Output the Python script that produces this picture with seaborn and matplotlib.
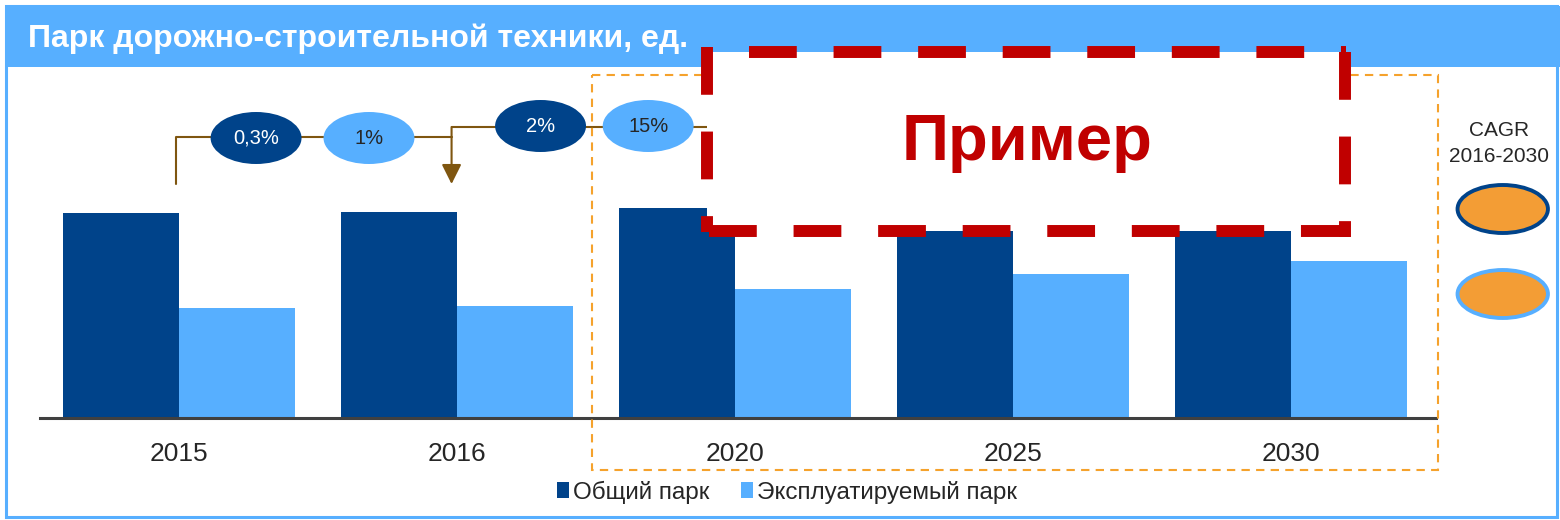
import matplotlib.pyplot as plt
import seaborn as sns
import pandas as pd
from matplotlib.patches import Ellipse, Rectangle

# chart data (heights, arbitrary units)
years = ["2015", "2016", "2020", "2025", "2030"]
total_park = [205, 206, 210, 214, 222]
operated_park = [110, 112, 129, 144, 157]
series_names = ["Общий парк", "Эксплуатируемый парк"]
growth_labels = ["0,3%", "1%", "2%", "15%"]

DARK = "#00438A"
LIGHT = "#57AFFF"
ORANGE = "#F39D35"
BROWN = "#7F5610"
RED = "#C00000"
TEXT = "#262626"

sns.set_style("white")
plt.rcParams["font.family"] = ["Liberation Sans", "DejaVu Sans"]

df = pd.DataFrame({
    "year": years * 2,
    "value": total_park + operated_park,
    "series": [series_names[0]] * len(years) + [series_names[1]] * len(years),
})

W, H = 1560, 520
fig = plt.figure(figsize=(W / 100, H / 100), dpi=100)
ax = fig.add_axes([40 / W, (H - 418) / H, (1436 - 40) / W, (418 - 70) / H])

sns.barplot(data=df, x="year", y="value", hue="series",
            palette=[DARK, LIGHT], width=0.835, saturation=1,
            linewidth=0, ax=ax)

ax.set_xlim(-0.5, 4.52)
ax.set_ylim(0, 348)
ax.set_xlabel("")
ax.set_ylabel("")
ax.set_yticks([])
ax.tick_params(axis="x", length=0, pad=17.5, labelsize=19, labelcolor=TEXT)
for side in ["top", "left", "right"]:
    ax.spines[side].set_visible(False)
ax.spines["bottom"].set_color("#404040")
ax.spines["bottom"].set_linewidth(2.2)

handles, labels = ax.get_legend_handles_labels()
ax.legend(handles, labels, loc="center", bbox_to_anchor=(0.535, -0.213),
          ncol=2, frameon=False, fontsize=17.5, handlelength=0.5,
          handleheight=0.6, handletextpad=0.15, columnspacing=1.3,
          labelcolor=TEXT)

# growth brackets between the years
ax.plot([-0.01, -0.01, 0.98], [234, 281, 281], color=BROWN, lw=1.5,
        clip_on=False, zorder=3)
ax.annotate("", xy=(0.98, 234), xytext=(0.98, 291),
            arrowprops=dict(arrowstyle="-|>", color=BROWN, lw=1.5,
                            mutation_scale=30, shrinkA=0, shrinkB=0),
            zorder=3)
ax.plot([0.98, 2.0], [291, 291], color=BROWN, lw=1.5, clip_on=False, zorder=3)
ax.annotate("", xy=(2.0, 234), xytext=(2.0, 291),
            arrowprops=dict(arrowstyle="-|>", color=BROWN, lw=1.5,
                            mutation_scale=30, shrinkA=0, shrinkB=0),
            zorder=3)

bubble_x = [0.277, 0.683, 1.30, 1.687]
bubble_y = [280, 280, 292, 292]
for i, (bx, by) in enumerate(zip(bubble_x, bubble_y)):
    fc = DARK if i % 2 == 0 else LIGHT
    tc = "white" if i % 2 == 0 else TEXT
    ax.add_patch(Ellipse((bx, by), 0.327, 52, facecolor=fc, edgecolor="none",
                         zorder=4, clip_on=False))
    ax.text(bx, by, growth_labels[i], ha="center", va="center", fontsize=14.5,
            color=tc, zorder=5)

# CAGR legend on the right
ax.text(4.745, 288, "CAGR", ha="center", va="center", fontsize=15, color=TEXT)
ax.text(4.745, 262, "2016-2030", ha="center", va="center", fontsize=15,
        color=TEXT)
for cy, ec in [(209, DARK), (124, LIGHT)]:
    ax.add_patch(Ellipse((4.76, cy), 0.325, 48, facecolor=ORANGE, edgecolor=ec,
                         lw=2.8, clip_on=False, zorder=4))

# overlay: frame, title band, highlight boxes
ov = fig.add_axes([0, 0, 1, 1])
ov.set_xlim(0, W)
ov.set_ylim(H, 0)
ov.axis("off")

ov.add_patch(Rectangle((6, 6), 1551, 511, fill=False, edgecolor=LIGHT,
                       lw=2.2, zorder=1))
ov.add_patch(Rectangle((5, 6), 1555, 61, facecolor=LIGHT, edgecolor="none",
                       zorder=2))
ov.text(28, 39, "Парк дорожно-строительной техники, ед.", color="white",
        fontsize=23, fontweight="bold", ha="left", va="center", zorder=3)

ov.add_patch(Rectangle((592, 75), 846, 395, fill=False, edgecolor="#F5A22C",
                       lw=1.5, linestyle=(0, (4, 3)), zorder=2))

# "Пример" stamp: white box with thick red dashed border, one line per side
ov.add_patch(Rectangle((707, 52), 639, 179, facecolor="white",
                       edgecolor="none", zorder=4))
red_dash = (0, (4.0, 3.08))
for xs, ys in [([749, 1346], [52, 52]), ([1345, 1345], [52, 237]),
               ([709, 1346], [231, 231]), ([707, 707], [47, 232])]:
    ov.plot(xs, ys, color=RED, lw=8.6, linestyle=red_dash,
            dash_capstyle="butt", zorder=5)
ov.text(1027, 143, "Пример", color=RED, fontsize=47, fontweight="bold",
        ha="center", va="center", zorder=6)

fig.savefig("out.png", dpi=100)
